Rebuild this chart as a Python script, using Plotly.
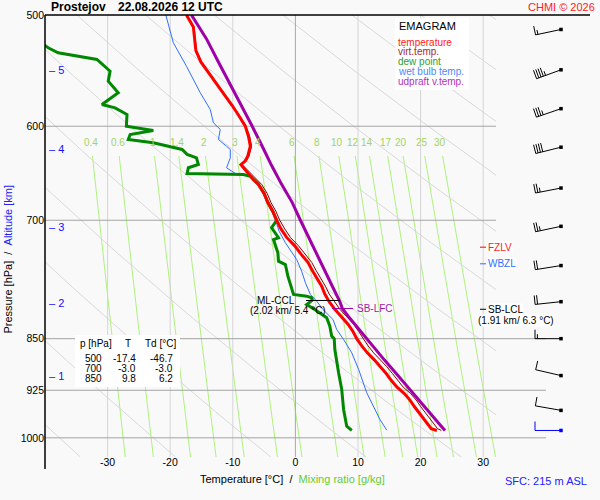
import numpy as np
import plotly.graph_objects as go


# Prostejov 22.08.2026 12 UTC
# temperature and virtual temperature [°C] on pressure levels [hPa]
temp_p = [500, 510, 520, 530, 540, 550, 560, 570, 580, 590,
          600, 610, 620, 630, 635, 639, 646, 650, 655, 660,
          670, 680, 690, 700, 710, 720, 730, 740, 750, 760,
          770, 780, 790, 800, 810, 820, 830, 840, 850, 860,
          870, 880, 890, 900, 910, 920, 930, 940, 950, 960,
          970, 980, 985, 988]
temp_c = [-17.4, -16.3, -16.1, -15.9, -15.1, -13.8, -12.6, -11.3, -10.1, -9.0,
          -8.0, -7.5, -7.2, -7.6, -8.0, -8.7, -7.8, -7.3, -6.7, -5.9,
          -5.0, -4.4, -3.6, -3.0, -2.3, -1.4, -0.1, 0.9, 2.0, 2.7,
          3.5, 4.2, 4.7, 5.4, 6.3, 7.4, 8.4, 9.2, 9.8, 10.6,
          11.5, 12.6, 13.6, 14.5, 15.3, 16.2, 17.4, 18.3, 19.0, 19.8,
          20.6, 21.3, 21.7, 22.6]
virt_c = [-17.3, -16.2, -16.0, -15.8, -15.0, -13.7, -12.5, -11.2, -10.0, -8.9,
          -7.9, -7.3, -7.0, -7.4, -7.8, -8.5, -7.5, -6.9, -6.2, -5.4,
          -4.5, -3.9, -3.1, -2.5, -1.7, -0.8, 0.5, 1.5, 2.6, 3.3,
          4.1, 4.8, 5.4, 6.2, 7.1, 8.2, 9.3, 10.1, 10.8, 11.6,
          12.5, 13.6, 14.6, 15.5, 16.3, 17.2, 18.4, 19.3, 20.0, 20.8,
          21.6, 22.3, 22.7, 23.3]

# dew point
dew_p = [500, 527.6, 532, 537.8, 548.3, 557.3, 568, 579, 582.2, 588.6,
         600, 604.2, 608.2, 613.2, 616.5, 623.3, 628.4, 631.9, 638.9, 642.3,
         648.3, 649.4, 651.3, 655, 660, 670, 680, 690, 700, 708.7,
         720.4, 722.5, 738.4, 748.6, 752.7, 767.2, 782, 790.6, 792.8, 794.9,
         798, 803.7, 810.3, 814.7, 821.4, 832.8, 846.5, 850, 865.2, 898.9,
         923.8, 954.6, 981.1, 988]
dew_c = [-46.7, -39.5, -37.9, -31.7, -29.6, -29.9, -28.3, -30.9, -28.8, -26.9,
         -27.0, -22.7, -26.4, -26.7, -22.7, -18.1, -17.3, -15.8, -15.5, -17.1,
         -17.3, -8.3, -7.2, -6.7, -5.9, -5.0, -4.4, -3.6, -3.0, -3.8,
         -2.7, -3.5, -2.8, -2.7, -1.6, -1.2, -0.6, -0.3, 1.8, 2.6,
         2.7, 1.8, 3.1, 3.9, 5.0, 5.5, 5.8, 6.2, 6.3, 6.9,
         7.4, 7.7, 8.2, 9.0]

# wet bulb temperature
wet_p = [500, 513.5, 523.3, 543.8, 568, 583.8, 596.6, 603.2, 613.2, 620,
         623.3, 631.9, 637.1, 642.3, 648.3, 651.3, 655, 660, 670, 680,
         690, 699.1, 712.7, 726.3, 746.5, 761, 775.6, 790.6, 799.3, 810.3,
         823.7, 837.3, 851.1, 869.9, 894, 928.8, 954.6, 970.4, 987.6]
wet_c = [-20.7, -20.0, -19.5, -17.4, -15.2, -13.6, -13.1, -12.0, -12.3, -11.0,
         -10.4, -10.4, -10.7, -11.0, -9.6, -7.2, -6.7, -5.9, -5.0, -4.4,
         -3.6, -3.2, -2.6, -1.6, 0.2, 1.0, 1.6, 2.4, 3.4, 4.4,
         6.0, 6.6, 7.7, 9.0, 10.1, 11.4, 12.7, 13.5, 14.6]

# updraft (surface parcel) virtual temperature
upd_p = [500, 520, 540, 560, 580, 600, 620, 640, 660, 680, 700, 720, 740, 760,
         780, 800, 809, 820, 840, 860, 880, 900, 920, 940, 960, 980, 988]
upd_c = [-16.6, -14.2, -12.3, -10.4, -8.7, -6.9, -5.3, -3.8, -2.2, -0.5, 0.8, 2.1, 3.4, 4.7,
         5.9, 7.1, 7.5, 8.5, 10.4, 12.4, 14.2, 16.1, 17.9, 19.7, 21.5, 23.2, 23.9]

# wind every 500 m, last one is the surface
wind_p = [512, 547, 583, 621, 664, 707, 754, 800, 850, 903, 956, 988]
wind_dir = [258, 250, 251, 256, 259, 258, 261, 264, 270, 283, 280, 270]
wind_kt = [15, 45, 35, 40, 25, 25, 20, 20, 15, 10, 10, 10]

# altitude scale
alt_km = [1, 2, 3, 4, 5]
alt_p = [903.4, 801.2, 707.5, 622.6, 547.4]

# diagnosed levels [hPa]
fzlv_p = 731.6
wbzl_p = 751.8
lcl_p, lcl_km, lcl_t = 810.0, 1.91, 6.3
lfc_p = 809.0
ccl_p, ccl_km, ccl_t = 798.4, 2.02, 5.4

# small table
tbl_p = [500, 700, 850]
tbl_t = [-17.4, -3.0, 9.8]
tbl_td = [-46.7, -3.0, 6.2]

# background
p_ticks = [500, 600, 700, 850, 925, 1000]
t_ticks = [-30, -20, -10, 0, 10, 20, 30]
mix_ratio = [0.4, 0.6, 1, 1.4, 2, 3, 4, 6, 8, 10, 12, 14, 17, 20, 25, 30]
theta_ref = np.arange(-52.7, 160, 15)   # grey guide lines, value at 1000 hPa

# geometry
FONT = "Liberation Sans, Arial, sans-serif"
W, H = 600, 500
ML, MR, MT, MB = 45, 8, 15, 43
PW, PH = W - ML - MR, H - MT - MB
XPX = 6.26          # px per °C
YPX = 610.0         # px per unit of ln(p)
X0 = -40.0
X1 = X0 + PW / XPX
P_TOP = 500.0
P_BOT = P_TOP * np.exp(PH / YPX)


def xpx(px):
    return (px - ML) / PW


def ypx(py):
    return 1 - (py - MT) / PH


def t_at(px):
    return X0 + (px - ML) / XPX


T_EDGE = t_at(496)

fig = go.Figure()


def add_line(x, y, color, width, **kw):
    fig.add_trace(go.Scatter(x=x, y=y, mode="lines", line=dict(color=color, width=width),
                             hoverinfo="skip", showlegend=False, **kw))


def dew_from_mix(w, p):
    e = w * p / (622.0 + w)
    a = np.log(e / 6.112)
    return 243.5 * a / (17.67 - a)


# mixing ratio lines
xs, ys = [], []
pp = np.geomspace(630, P_BOT, 20)
for w in mix_ratio:
    xs += list(dew_from_mix(w, pp)) + [None]
    ys += list(pp) + [None]
add_line(xs, ys, "#aef27e", 1)

# grey diagonal guide lines
KAPPA = 0.45
xs, ys = [], []
for th in theta_ref:
    thk = th + 273.15
    p_end = min(P_BOT, 1000 * ((T_EDGE + 273.15) / thk) ** (1 / KAPPA))
    if p_end <= P_TOP:
        continue
    pp = np.geomspace(P_TOP, p_end, 40)
    xs += list(thk * (pp / 1000) ** KAPPA - 273.15) + [None]
    ys += list(pp) + [None]
add_line(xs, ys, "#d9d9d9", 1)

# isotherms
xs, ys = [], []
for t in t_ticks:
    if t != 0:
        xs += [t, t, None]
        ys += [P_TOP, P_BOT, None]
add_line(xs, ys, "#d6d6d6", 1)
add_line([0, 0], [P_TOP, P_BOT], "#a8a8a8", 1)

# isobars
xs, ys = [], []
for p in p_ticks[1:]:
    xs += [X0, T_EDGE if p < 850 else t_at(546), None]
    ys += [p, p, None]
add_line(xs, ys, "#a4a4a4", 1)

# profiles
add_line(wet_c, wet_p, "#2f6fff", 1)
add_line(dew_c, dew_p, "#008800", 3)
add_line(virt_c, temp_p, "#8b0000", 1)
add_line(temp_c, temp_p, "#ff0000", 3)
add_line(upd_c, upd_p, "#a000a8", 3)

# level markers
add_line([t_at(306), t_at(340)], [ccl_p, ccl_p], "black", 1)
add_line([t_at(332), t_at(353)], [lfc_p, lfc_p], "#a000a8", 1)
add_line([t_at(480), t_at(486)], [fzlv_p, fzlv_p], "#ff0000", 1)
add_line([t_at(480), t_at(486)], [wbzl_p, wbzl_p], "#2f6fff", 1)
add_line([t_at(480), t_at(486)], [lcl_p, lcl_p], "black", 1)

# wind barbs
BARB_T = t_at(561)
SHAFT, FEATHER, GAP = 26.0, 9.0, 2.4
for i, (p0, wd, kt) in enumerate(zip(wind_p, wind_dir, wind_kt)):
    ue, un = np.sin(np.radians(wd)), np.cos(np.radians(wd))
    fe, fn = un, -ue
    segs = [[(0, 0), (SHAFT * ue, SHAFT * un)]]
    pos = SHAFT
    n10, n5 = kt // 10, (kt % 10) // 5
    for k in range(n10):
        segs.append([(pos * ue, pos * un), (pos * ue + FEATHER * fe, pos * un + FEATHER * fn)])
        pos -= GAP
    if n5:
        if n10 == 0:
            pos -= GAP
        segs.append([(pos * ue, pos * un), (pos * ue + FEATHER / 2 * fe, pos * un + FEATHER / 2 * fn)])
    xs, ys = [], []
    for seg in segs:
        for dx, dn in seg:
            xs.append(BARB_T + dx / XPX)
            ys.append(p0 * np.exp(-dn / YPX))
        xs.append(None)
        ys.append(None)
    col = "#0000ff" if i == len(wind_p) - 1 else "black"
    add_line(xs, ys, col, 1)
    fig.add_trace(go.Scatter(x=[BARB_T], y=[p0], mode="markers", hoverinfo="skip", showlegend=False,
                             marker=dict(symbol="square", size=3.5, color=col)))

# annotations
ann = []


def note(text, x, y, xanchor="left", size=10, color="black", xref="paper", yref="paper", **kw):
    ann.append(dict(text=text, x=x, y=y, xref=xref, yref=yref, xanchor=xanchor, yanchor="middle",
                    showarrow=False, font=dict(family=FONT, size=size, color=color), **kw))


note("<b>Prostejov</b>", xpx(49), ypx(7), size=12)
note("<b>22.08.2026 12 UTC</b>", xpx(116), ypx(7), size=12)
note("CHMI © 2026", xpx(597), ypx(7), xanchor="right", size=11, color="#ff2020")
note("SFC: 215 m ASL", xpx(589), ypx(481), xanchor="right", size=11, color="#2020ff")
note("Temperature [°C] \u00a0/ \u00a0<span style='color:#66cc33'>Mixing ratio [g/kg]</span>",
     xpx(292), ypx(479), xanchor="center", size=11)
note("Pressure [hPa] \u00a0/ \u00a0<span style='color:#2020ff'>Altitude [km]</span>",
     xpx(7.5), ypx(259), xanchor="center", size=11, textangle=-90)

for w in mix_ratio:
    note(f"{w:g}", dew_from_mix(w, 616.0), np.log10(616.0), xanchor="center", size=10,
         color="#a2d45e", xref="x", yref="y")

for km, p in zip(alt_km, alt_p):
    note(f"– {km}", xpx(47), np.log10(p), size=11, color="#1010ff", yref="y")

# legend box
legend_items = [("temperature", "#ff1a1a"), ("virt.temp.", "#a52a2a"), ("dew point", "#2ca02c"),
                ("wet bulb temp.", "#4b86ff"), ("udpraft v.temp.", "#b030c0")]
note("EMAGRAM", xpx(397), ypx(26), size=11)
for k, (txt, col) in enumerate(legend_items):
    note(txt, xpx(397), ypx(42 + 9.9 * k), size=10, color=col, borderpad=0)

# table
note("p [hPa]", xpx(77.5), ypx(343.3))
note("T", xpx(127.5), ypx(343.3), xanchor="center")
note("Td [°C]", xpx(143), ypx(343.3))
for k, (p, t, td) in enumerate(zip(tbl_p, tbl_t, tbl_td)):
    yy = ypx(358.3 + 10 * k)
    note(f"{p}", xpx(102.5), yy, xanchor="right", borderpad=0)
    note(f"{t:.1f}", xpx(136.5), yy, xanchor="right", borderpad=0)
    note(f"{td:.1f}", xpx(174), yy, xanchor="right", borderpad=0)

# level labels
note("FZLV", xpx(487), np.log10(fzlv_p), color="#ff1a1a", yref="y", bgcolor="white", borderpad=0)
note("WBZL", xpx(487), np.log10(wbzl_p), color="#2f6fff", yref="y", bgcolor="white", borderpad=0)
note("SB-LCL", xpx(487), np.log10(lcl_p), yref="y", bgcolor="white", borderpad=0)
note(f"({lcl_km:.2f} km/ {lcl_t:.1f} °C)", xpx(516), np.log10(lcl_p), xanchor="center", yref="y",
     yshift=-11, bgcolor="white", borderpad=0)
note("SB-LFC", xpx(355), np.log10(lfc_p), color="#a020b0", yref="y")
note("ML-CCL", xpx(297), np.log10(ccl_p), xanchor="right", yref="y")
note(f"({ccl_km:.2f} km/ {ccl_t:.1f} °C)", xpx(248), np.log10(ccl_p), yref="y", yshift=-10)

shapes = [
    dict(type="rect", xref="paper", yref="paper", x0=xpx(75), x1=xpx(180), y0=ypx(387), y1=ypx(335),
         fillcolor="white", line=dict(width=0), layer="above"),
    dict(type="rect", xref="paper", yref="paper", x0=xpx(395), x1=xpx(469), y0=ypx(90), y1=ypx(18),
         fillcolor="white", line=dict(width=0), layer="above"),
    dict(type="line", xref="paper", yref="paper", x0=0, x1=xpx(590), y0=1, y1=1,
         line=dict(color="black", width=1.5)),
    dict(type="line", xref="paper", yref="paper", x0=0, x1=0, y0=ypx(469), y1=1,
         line=dict(color="black", width=1.5)),
]

fig.update_layout(
    width=W, height=H,
    margin=dict(l=ML, r=MR, t=MT, b=MB),
    paper_bgcolor="#f9f9f9", plot_bgcolor="#f9f9f9",
    font=dict(family=FONT, size=11, color="black"),
    showlegend=False,
    xaxis=dict(range=[X0, X1], tickvals=t_ticks, ticktext=[str(t) for t in t_ticks],
               showgrid=False, zeroline=False, showline=False, ticks="",
               tickfont=dict(size=10.5), ticklabelstandoff=-3),
    yaxis=dict(type="log", range=[np.log10(P_BOT), np.log10(P_TOP)], tickvals=p_ticks,
               ticktext=[str(p) for p in p_ticks], showgrid=False, zeroline=False,
               showline=False, ticks="", tickfont=dict(size=10.5)),
    shapes=shapes,
    annotations=ann,
)

# the page body has a default 8 px margin; drop it so the figure sits at the window corner
fig.write_html("out.html", config={"displayModeBar": False},
               post_script="document.body.style.margin='0';")
